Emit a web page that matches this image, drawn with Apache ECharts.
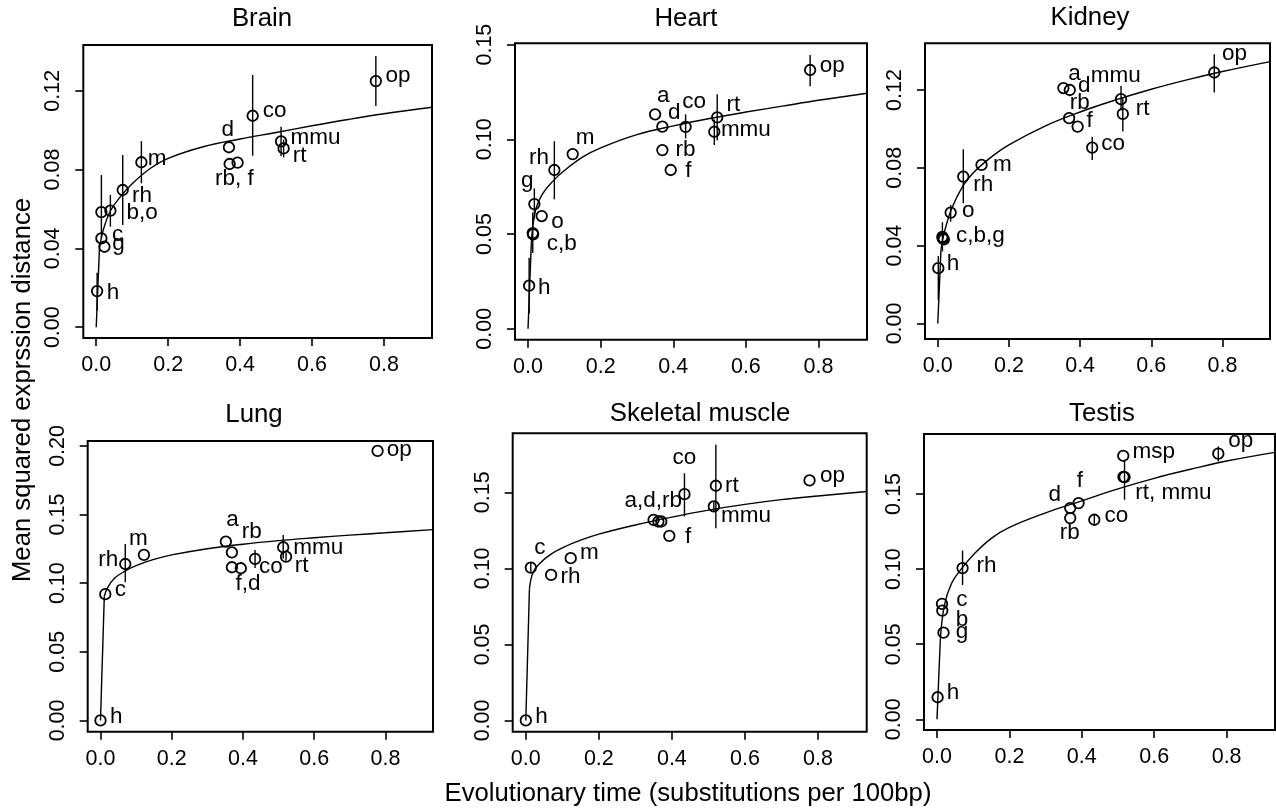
<!DOCTYPE html>
<html><head><meta charset="utf-8">
<script src="https://cdn.jsdelivr.net/npm/echarts@6/dist/echarts.min.js"></script>
<style>html,body{margin:0;padding:0;background:#fff}#c{width:1276px;height:810px}</style>
</head><body><div id="c"></div>
<script>
// ---------- data ----------
const panelTitles = ['Brain', 'Heart', 'Kidney', 'Lung', 'Skeletal muscle', 'Testis'];
const xTicks = [0, 0.2, 0.4, 0.6, 0.8];
const brainYTicks = [0, 0.04, 0.08, 0.12];
const heartYTicks = [0, 0.05, 0.10, 0.15];
const kidneyYTicks = [0, 0.04, 0.08, 0.12];
const lungYTicks = [0, 0.05, 0.10, 0.15, 0.20];
const muscleYTicks = [0, 0.05, 0.10, 0.15];
const testisYTicks = [0, 0.05, 0.10, 0.15];
const xAxisTitle = 'Evolutionary time (substitutions per 100bp)';
const yAxisTitle = 'Mean squared exprssion distance';

// points [x, y]
const brainPoints = [[0.0025,0.0183],[0.0144,0.0451],[0.0228,0.0408],[0.0144,0.0584],[0.0394,0.0591],[0.0737,0.0696],[0.1256,0.0837],[0.369,0.0913],[0.371,0.0828],[0.393,0.0835],[0.435,0.1073],[0.514,0.0943],[0.521,0.0907],[0.7775,0.1249]];
const heartPoints = [[0.003,0.0227],[0.013,0.0505],[0.014,0.0498],[0.0174,0.0658],[0.0377,0.0595],[0.0725,0.0838],[0.123,0.0922],[0.35,0.1132],[0.37,0.1067],[0.37,0.0943],[0.393,0.0838],[0.434,0.1066],[0.521,0.1116],[0.513,0.104],[0.777,0.1366]];
const kidneyPoints = [[0.0015,0.0284],[0.013,0.0445],[0.014,0.0438],[0.017,0.0432],[0.0362,0.057],[0.0717,0.0755],[0.123,0.0815],[0.353,0.121],[0.371,0.12],[0.369,0.1055],[0.393,0.1012],[0.434,0.0904],[0.515,0.1153],[0.52,0.1077],[0.777,0.129]];
const lungPoints = [[0,0],[0.0135,0.092],[0.0696,0.114],[0.122,0.1206],[0.352,0.1303],[0.369,0.1225],[0.369,0.1116],[0.394,0.1109],[0.434,0.1177],[0.513,0.1262],[0.521,0.1193],[0.778,0.1964]];
const musclePoints = [[0,0],[0.0137,0.1005],[0.0693,0.0957],[0.123,0.1067],[0.35,0.1319],[0.363,0.1308],[0.371,0.1308],[0.393,0.1214],[0.4345,0.1488],[0.5205,0.1543],[0.515,0.1407],[0.777,0.1578]];
const testisPoints = [[0.0017,0.0147],[0.0138,0.0769],[0.0146,0.0724],[0.018,0.0577],[0.0706,0.1007],[0.368,0.1407],[0.368,0.134],[0.391,0.144],[0.4345,0.1329],[0.5145,0.1755],[0.518,0.1613],[0.515,0.1615],[0.777,0.1769]];

// error bars [x, low, high]
const brainErrors = [[0.0025,0.0083,0.0276],[0.0144,0.045,0.0772],[0.0394,0.051,0.0671],[0.0737,0.0518,0.0874],[0.1256,0.073,0.0944],[0.435,0.087,0.128],[0.514,0.0869,0.1017],[0.521,0.0862,0.0952],[0.7775,0.1122,0.1376]];
const heartErrors = [[0.003,0.008,0.0375],[0.013,0.04,0.0613],[0.0174,0.058,0.0741],[0.0725,0.0683,0.099],[0.434,0.1005,0.1132],[0.521,0.0995,0.1238],[0.513,0.097,0.1105],[0.777,0.128,0.1445]];
const kidneyErrors = [[0.0015,0.012,0.0347],[0.013,0.037,0.052],[0.0362,0.0523,0.0609],[0.0717,0.0618,0.0896],[0.434,0.084,0.096],[0.515,0.1095,0.1221],[0.52,0.0986,0.1158],[0.777,0.1187,0.1384]];
const lungErrors = [[0.0696,0.1007,0.1286],[0.434,0.111,0.1242],[0.513,0.118,0.1352],[0.521,0.1163,0.1223]];
const muscleErrors = [[0.0137,0.0975,0.1035],[0.4345,0.1341,0.1626],[0.5205,0.1264,0.1813],[0.515,0.1377,0.1437]];
const testisErrors = [[0.0706,0.0895,0.1124],[0.4345,0.1299,0.1359],[0.518,0.1462,0.1729],[0.777,0.1717,0.1817]];

// fitted curves [x, y]
const brainCurve = [[0,0],[0.009,0.04],[0.02,0.0495],[0.04,0.0592],[0.07,0.0668],[0.1,0.0728],[0.15,0.0805],[0.2,0.0857],[0.3,0.0917],[0.4,0.0955],[0.5,0.0988],[0.6,0.1022],[0.7,0.1054],[0.8,0.1083],[0.934,0.1116]];
const heartCurve = [[0,0],[0.009,0.045],[0.02,0.062],[0.04,0.0712],[0.07,0.0782],[0.1,0.0835],[0.15,0.0906],[0.2,0.0955],[0.3,0.1025],[0.4,0.1071],[0.5,0.111],[0.6,0.1144],[0.7,0.1175],[0.8,0.1206],[0.934,0.1243]];
const kidneyCurve = [[0,0],[0.009,0.038],[0.02,0.048],[0.04,0.0595],[0.07,0.0705],[0.1,0.0775],[0.15,0.0855],[0.2,0.0918],[0.3,0.1013],[0.4,0.1087],[0.5,0.1149],[0.6,0.1204],[0.7,0.1252],[0.8,0.1295],[0.934,0.1346]];
const lungCurve = [[0,0],[0.0107,0.0905],[0.02,0.0968],[0.04,0.1037],[0.07,0.109],[0.1,0.1128],[0.15,0.1173],[0.2,0.1206],[0.3,0.1251],[0.4,0.1284],[0.5,0.131],[0.6,0.1331],[0.7,0.135],[0.8,0.1367],[0.934,0.139]];
const muscleCurve = [[0,0],[0.0099,0.0863],[0.02,0.0975],[0.04,0.1037],[0.07,0.1095],[0.1,0.1135],[0.15,0.1185],[0.2,0.1225],[0.3,0.1285],[0.4,0.1337],[0.5,0.1383],[0.6,0.1421],[0.7,0.1452],[0.8,0.1476],[0.934,0.1505]];
const testisCurve = [[0,0],[0.009,0.052],[0.02,0.0755],[0.04,0.0905],[0.07,0.101],[0.1,0.1095],[0.15,0.1205],[0.2,0.1278],[0.3,0.1375],[0.4,0.1455],[0.5,0.1535],[0.6,0.1605],[0.7,0.1665],[0.8,0.172],[0.933,0.1778]];

// point labels [x, y, text] (label centre in data units)
const brainLabels = [[0.8394,0.1275,'op'],[0.4958,0.1097,'co'],[0.3658,0.1004,'d'],[0.6097,0.0961,'mmu'],[0.5653,0.0872,'rt'],[0.3844,0.0755,'rb, f'],[0.1692,0.0856,'m'],[0.1275,0.0669,'rh'],[0.1275,0.0581,'b,o'],[0.0594,0.0471,'c'],[0.0622,0.0425,'g'],[0.0464,0.0175,'h']];
const heartLabels = [[0.838,0.1387,'op'],[0.3727,0.1229,'a'],[0.4028,0.114,'d'],[0.4573,0.1197,'co'],[0.5656,0.1184,'rt'],[0.6,0.1049,'mmu'],[0.4339,0.0947,'rb'],[0.4413,0.0833,'f'],[0.157,0.1008,'m'],[0.0303,0.0903,'rh'],[-0.0022,0.0783,'g'],[0.0813,0.0563,'o'],[0.0928,0.045,'c,b'],[0.0446,0.0216,'h']];
const kidneyLabels = [[0.8337,0.1384,'op'],[0.3841,0.1281,'a'],[0.4114,0.1224,'d'],[0.4999,0.1272,'mmu'],[0.3987,0.1135,'rb'],[0.4268,0.1041,'f'],[0.5757,0.1101,'rt'],[0.4931,0.0921,'co'],[0.1818,0.0815,'m'],[0.1278,0.0715,'rh'],[0.0854,0.0578,'o'],[0.12,0.045,'c,b,g'],[0.0427,0.0304,'h']];
const lungLabels = [[0.8386,0.1975,'op'],[0.3706,0.1465,'a'],[0.4245,0.1373,'rb'],[0.1067,0.1325,'m'],[0.0219,0.1169,'rh'],[0.6115,0.1259,'mmu'],[0.5648,0.113,'rt'],[0.4787,0.1118,'co'],[0.4141,0.0992,'f,d'],[0.0561,0.0955,'c'],[0.0441,0.0028,'h']];
const muscleLabels = [[0.8397,0.1609,'op'],[0.4345,0.1729,'co'],[0.5644,0.1543,'rt'],[0.3493,0.1444,'a,d,rb'],[0.603,0.1345,'mmu'],[0.4447,0.1209,'f'],[0.0384,0.1137,'c'],[0.174,0.1104,'m'],[0.1227,0.0946,'rh'],[0.0427,0.0025,'h']];
const testisLabels = [[0.8389,0.1855,'op'],[0.5989,0.1784,'msp'],[0.3945,0.1589,'f'],[0.325,0.1493,'d'],[0.6527,0.1506,'rt, mmu'],[0.4952,0.1355,'co'],[0.3669,0.1239,'rb'],[0.1368,0.1022,'rh'],[0.069,0.0799,'c'],[0.069,0.0666,'b'],[0.069,0.0582,'g'],[0.0441,0.0177,'h']];

// ---------- layout & style ----------
const FONT = '"Liberation Sans", Arial, Helvetica, sans-serif';
const X_MIN = -0.0359, X_MAX = 0.9336;
const panels = [
  {pts: brainPoints,  err: brainErrors,  curve: brainCurve,  labels: brainLabels,  yTicks: brainYTicks,  box: [83.3, 45, 432, 338],     yMin: -0.0055, yMax: 0.1432, title: [262, 18.7]},
  {pts: heartPoints,  err: heartErrors,  curve: heartCurve,  labels: heartLabels,  yTicks: heartYTicks,  box: [515, 43.3, 867, 339.7],   yMin: -0.0058, yMax: 0.1507, title: [686, 19]},
  {pts: kidneyPoints, err: kidneyErrors, curve: kidneyCurve, labels: kidneyLabels, yTicks: kidneyYTicks, box: [925, 43.3, 1270, 339],    yMin: -0.008,  yMax: 0.144,  title: [1090, 17.8]},
  {pts: lungPoints,   err: lungErrors,   curve: lungCurve,   labels: lungLabels,   yTicks: lungYTicks,   box: [87.7, 441, 433, 731.7],   yMin: -0.0082, yMax: 0.2036, title: [254, 415]},
  {pts: musclePoints, err: muscleErrors, curve: muscleCurve, labels: muscleLabels, yTicks: muscleYTicks, box: [512.7, 433.3, 866.7, 731.7], yMin: -0.0074, yMax: 0.1888, title: [700, 414]},
  {pts: testisPoints, err: testisErrors, curve: testisCurve, labels: testisLabels, yTicks: testisYTicks, box: [924, 434, 1275, 730],     yMin: -0.0071, yMax: 0.190,  title: [1102, 414]}
];

const grid = [], xAxis = [], yAxis = [], series = [], graphic = [];
panels.forEach((p, i) => {
  const [l, t, r, b] = p.box;
  grid.push({left: l, top: t, width: r - l, height: b - t, show: true, borderColor: '#000', borderWidth: 2, backgroundColor: 'transparent', containLabel: false});
  xAxis.push({
    gridIndex: i, type: 'value', min: X_MIN, max: X_MAX,
    axisLine: {show: false, onZero: false}, splitLine: {show: false},
    axisTick: {show: true, customValues: xTicks, length: 8, lineStyle: {color: '#000', width: 1.6}},
    axisLabel: {show: true, customValues: xTicks, formatter: v => v.toFixed(1), color: '#000', fontSize: 21.5, fontFamily: FONT, margin: 16}
  });
  yAxis.push({
    gridIndex: i, type: 'value', min: p.yMin, max: p.yMax,
    axisLine: {show: false, onZero: false}, splitLine: {show: false},
    axisTick: {show: true, customValues: p.yTicks, length: 8, lineStyle: {color: '#000', width: 1.6}},
    axisLabel: {show: true, customValues: p.yTicks, formatter: v => v.toFixed(2), rotate: 90, color: '#000', fontSize: 21.5, fontFamily: FONT, margin: 19}
  });
  const ax = {xAxisIndex: i, yAxisIndex: i};
  series.push(Object.assign({type: 'line', data: p.curve.slice(0, 2), symbol: 'none', silent: true, animation: false, lineStyle: {color: '#000', width: 1.4}}, ax));
  series.push(Object.assign({type: 'line', data: p.curve.slice(1), smooth: 0.4, symbol: 'none', silent: true, animation: false, lineStyle: {color: '#000', width: 1.4}}, ax));
  series.push(Object.assign({
    type: 'custom', data: p.err, silent: true, animation: false,
    encode: {x: 0, y: [1, 2]},
    renderItem: (params, api) => {
      const a = api.coord([api.value(0), api.value(1)]);
      const c = api.coord([api.value(0), api.value(2)]);
      return {type: 'line', shape: {x1: a[0], y1: a[1], x2: c[0], y2: c[1]}, style: {stroke: '#000', lineWidth: 1.4}};
    }
  }, ax));
  series.push(Object.assign({
    type: 'scatter', data: p.pts, symbol: 'circle', symbolSize: 10.5, silent: true, animation: false,
    itemStyle: {color: 'rgba(0,0,0,0)', borderColor: '#000', borderWidth: 1.8, opacity: 1}
  }, ax));
  series.push(Object.assign({
    type: 'scatter', silent: true, animation: false, z: 5,
    data: p.labels.map(d => ({value: [d[0], d[1]], name: d[2]})),
    symbol: 'circle', symbolSize: 1, itemStyle: {color: 'rgba(0,0,0,0)'},
    label: {show: true, position: 'inside', formatter: '{b}', color: '#000', opacity: 1, textBorderWidth: 0, textBorderColor: 'rgba(0,0,0,0)', fontSize: 22.5, fontFamily: FONT, align: 'center', verticalAlign: 'middle'}
  }, ax));
  graphic.push({type: 'text', x: p.title[0], y: p.title[1], silent: true,
    style: {text: panelTitles[i], fill: '#000', fontSize: 25.8, fontFamily: FONT, align: 'center', verticalAlign: 'middle', textAlign: 'center', textVerticalAlign: 'middle'}});
});
graphic.push({type: 'text', x: 688, y: 794, silent: true,
  style: {text: xAxisTitle, fill: '#000', fontSize: 25.7, fontFamily: FONT, align: 'center', verticalAlign: 'middle', textAlign: 'center', textVerticalAlign: 'middle'}});
graphic.push({type: 'text', x: 23, y: 390, rotation: Math.PI / 2, silent: true,
  style: {text: yAxisTitle, fill: '#000', fontSize: 25.7, fontFamily: FONT, align: 'center', verticalAlign: 'middle', textAlign: 'center', textVerticalAlign: 'middle'}});

const chart = echarts.init(document.getElementById('c'), null, {renderer: 'canvas'});
chart.setOption({animation: false, backgroundColor: '#fff', grid, xAxis, yAxis, series, graphic});
</script>
</body></html>
